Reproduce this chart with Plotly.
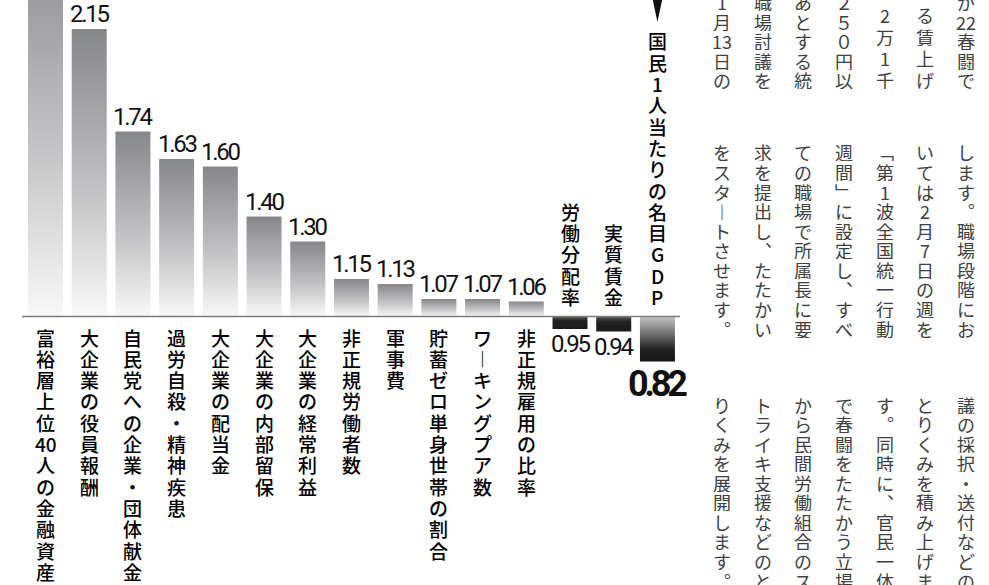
import plotly.graph_objects as go

# ---------------- data ----------------
categories = ["富裕層上位40人の金融資産", "大企業の役員報酬", "自民党への企業・団体献金",
              "過労自殺・精神疾患", "大企業の配当金", "大企業の内部留保", "大企業の経常利益",
              "非正規労働者数", "軍事費", "貯蓄ゼロ単身世帯の割合", "ワーキングプア数",
              "非正規雇用の比率", "労働分配率", "実質賃金", "国民1人当たりの名目GDP"]
values = [2.60, 2.15, 1.74, 1.63, 1.60, 1.40, 1.30, 1.15, 1.13, 1.07, 1.07, 1.06, 0.95, 0.94, 0.82]
base_value = 1.0

# article text columns (right to left)
article_top = ["が22春闘で", "る賃上げ", "2万1千", "２５０円以", "あとする統", "職場討議を", "1月13日の"]
article_mid = ["します。職場段階にお", "いては2月7日の週を", "「第1波全国統一行動", "週間」に設定し、すべ",
               "ての職場で所属長に要", "求を提出し、たたかい", "をスタートさせます。"]
article_bot = ["議の採択・送付などの", "とりくみを積み上げま", "す。同時に、官民一体", "で春闘をたたかう立場",
               "から民間労働組合のス", "トライキ支援などのと", "りくみを展開します。"]

# ---------------- layout constants ----------------
W, H = 989, 585
PITCH = 43.71          # px per category
X0PX = 45.5            # px centre of first bar
BASEPX = 316.5         # px of baseline from top
PXU = 250.0            # px per unit on value axis
xmin = -X0PX / PITCH
xmax = xmin + W / PITCH
ymax = base_value + BASEPX / PXU
ymin = ymax - H / PXU
BW = 35 / PITCH

VERT = {"。": "︒", "、": "︑", "「": "﹁", "」": "﹂", "ー": "︱"}


def cells(s):
    out, buf = [], ""
    for ch in s:
        if ch.isascii() and ch.isdigit():
            buf += ch
        else:
            if buf:
                out.append(buf)
                buf = ""
            out.append(VERT.get(ch, ch))
    if buf:
        out.append(buf)
    return out


JP = "Noto Sans CJK JP, Noto Sans CJK SC, sans-serif"
NUM = "Roboto, Liberation Sans, sans-serif"


def narrow(txt, ls):
    return f'<span style="letter-spacing:{ls}px">{txt}</span>'


pos_cs = [[0, "#f8f8f8"], [0.4, "#c6c6c8"], [1, "#86878b"]]
neg_small_cs = [[0, "#5a5a5a"], [0.35, "#222222"], [1, "#1a1a1a"]]
neg_big_cs = [[0, "#c4c4c4"], [0.75, "#1f1f1f"], [1, "#161616"]]

fig = go.Figure()
annotations = []
emph = len(values) - 1

for i, (cat, v) in enumerate(zip(categories, values)):
    x0, x1 = i - BW / 2, i + BW / 2
    if v >= base_value:
        cs = pos_cs
    elif base_value - v > 0.1:
        cs = neg_big_cs
    else:
        cs = neg_small_cs
    fig.add_trace(go.Scatter(
        x=[x0, x1, x1, x0, x0], y=[base_value, base_value, v, v, base_value],
        mode="lines", fill="toself", line=dict(width=0),
        fillgradient=dict(type="vertical", colorscale=cs, start=base_value, stop=v),
        hoverinfo="skip", showlegend=False))

    # value label
    if v >= base_value:
        annotations.append(dict(x=i, y=v, xref="x", yref="y", text=narrow(f"{v:.2f}", -2.3),
                                showarrow=False, yanchor="bottom", xanchor="center", yshift=-1,
                                font=dict(family=NUM, size=24, color="#111")))
    else:
        big = i == emph
        annotations.append(dict(x=i, y=v, xref="x", yref="y",
                                text=(narrow(f"<b>{v:.2f}</b>", -4.2) if big else narrow(f"{v:.2f}", -2.3)),
                                showarrow=False, yanchor="top", xanchor="center", yshift=1,
                                font=dict(family=NUM, size=(36 if big else 24), color="#111")))

    # category label (vertical)
    cl = cells(cat)
    n = len(cl)
    for k, c in enumerate(cl):
        if v >= base_value:
            shift = -(20.5 + 21.3 * k)
        else:
            shift = 20.0 + 21.3 * (n - 1 - k)
        annotations.append(dict(x=i, y=base_value, xref="x", yref="y", text=c, showarrow=False,
                                xanchor="center", yanchor="middle", yshift=shift, height=21,
                                font=dict(family=JP, size=19, color="#000", weight=500)))

# article text
col_x = [966 - 40.7 * k for k in range(7)]


def add_block(cols, first_center, pitch, bottom_align=None):
    for ci, s in enumerate(cols):
        cl = cells(s)
        n = len(cl)
        for k, c in enumerate(cl):
            if bottom_align is not None:
                p = 19.5 if n >= 5 else 22.0
                py = bottom_align - (n - 1 - k) * p
            else:
                py = first_center + k * pitch
            annotations.append(dict(x=col_x[ci] / W, y=1 - py / H, xref="paper", yref="paper",
                                    text=c, showarrow=False, xanchor="center", yanchor="middle",
                                    height=19,
                                    font=dict(family=JP, size=18, color="#404040")))


add_block(article_top, None, None, bottom_align=80)
add_block(article_mid, 152, 19.56)
add_block(article_bot, 404, 19.56)

shapes = [
    dict(type="line", xref="x", yref="y", x0=xmin + 22 / PITCH, x1=xmin + 680 / PITCH,
         y0=base_value, y1=base_value, line=dict(color="#7d7d7d", width=1.6), layer="above"),
    dict(type="path", xref="x", yref="y", xsizemode="pixel", ysizemode="pixel",
         xanchor=emph, yanchor=base_value, path="M -7.5,330 L 7.5,330 L 0,294.5 Z",
         fillcolor="#111111", line=dict(width=0)),
]

fig.update_layout(
    width=W, height=H, margin=dict(l=0, r=0, t=0, b=0),
    paper_bgcolor="white", plot_bgcolor="white",
    xaxis=dict(range=[xmin, xmax], visible=False, fixedrange=True),
    yaxis=dict(range=[ymin, ymax], visible=False, fixedrange=True),
    annotations=annotations, shapes=shapes, showlegend=False,
)

fig.write_html("out.html")
